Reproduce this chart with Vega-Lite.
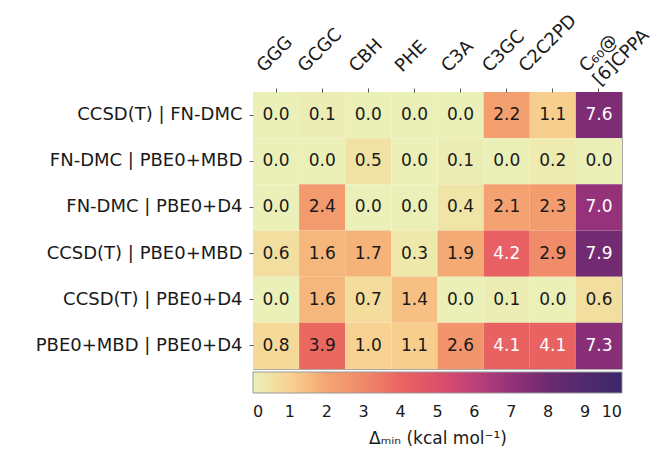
{
  "$schema": "https://vega.github.io/schema/vega-lite/v6.json",
  "width": 369,
  "height": 277,
  "autosize": {"type": "none"},
  "padding": {"left": 253, "top": 92, "right": 32, "bottom": 82},
  "background": "white",
  "config": {
    "font": "DejaVu Sans",
    "view": {"stroke": "#aaaaaa", "strokeWidth": 1}
  },
  "data": {
    "values": [
      {"pair": "CCSD(T) | FN-DMC", "sys": "GGG", "v": 0.0},
      {"pair": "CCSD(T) | FN-DMC", "sys": "GCGC", "v": 0.1},
      {"pair": "CCSD(T) | FN-DMC", "sys": "CBH", "v": 0.0},
      {"pair": "CCSD(T) | FN-DMC", "sys": "PHE", "v": 0.0},
      {"pair": "CCSD(T) | FN-DMC", "sys": "C3A", "v": 0.0},
      {"pair": "CCSD(T) | FN-DMC", "sys": "C3GC", "v": 2.2},
      {"pair": "CCSD(T) | FN-DMC", "sys": "C2C2PD", "v": 1.1},
      {"pair": "CCSD(T) | FN-DMC", "sys": "C₆₀@ [6]CPPA", "v": 7.6},
      {"pair": "FN-DMC | PBE0+MBD", "sys": "GGG", "v": 0.0},
      {"pair": "FN-DMC | PBE0+MBD", "sys": "GCGC", "v": 0.0},
      {"pair": "FN-DMC | PBE0+MBD", "sys": "CBH", "v": 0.5},
      {"pair": "FN-DMC | PBE0+MBD", "sys": "PHE", "v": 0.0},
      {"pair": "FN-DMC | PBE0+MBD", "sys": "C3A", "v": 0.1},
      {"pair": "FN-DMC | PBE0+MBD", "sys": "C3GC", "v": 0.0},
      {"pair": "FN-DMC | PBE0+MBD", "sys": "C2C2PD", "v": 0.2},
      {"pair": "FN-DMC | PBE0+MBD", "sys": "C₆₀@ [6]CPPA", "v": 0.0},
      {"pair": "FN-DMC | PBE0+D4", "sys": "GGG", "v": 0.0},
      {"pair": "FN-DMC | PBE0+D4", "sys": "GCGC", "v": 2.4},
      {"pair": "FN-DMC | PBE0+D4", "sys": "CBH", "v": 0.0},
      {"pair": "FN-DMC | PBE0+D4", "sys": "PHE", "v": 0.0},
      {"pair": "FN-DMC | PBE0+D4", "sys": "C3A", "v": 0.4},
      {"pair": "FN-DMC | PBE0+D4", "sys": "C3GC", "v": 2.1},
      {"pair": "FN-DMC | PBE0+D4", "sys": "C2C2PD", "v": 2.3},
      {"pair": "FN-DMC | PBE0+D4", "sys": "C₆₀@ [6]CPPA", "v": 7.0},
      {"pair": "CCSD(T) | PBE0+MBD", "sys": "GGG", "v": 0.6},
      {"pair": "CCSD(T) | PBE0+MBD", "sys": "GCGC", "v": 1.6},
      {"pair": "CCSD(T) | PBE0+MBD", "sys": "CBH", "v": 1.7},
      {"pair": "CCSD(T) | PBE0+MBD", "sys": "PHE", "v": 0.3},
      {"pair": "CCSD(T) | PBE0+MBD", "sys": "C3A", "v": 1.9},
      {"pair": "CCSD(T) | PBE0+MBD", "sys": "C3GC", "v": 4.2},
      {"pair": "CCSD(T) | PBE0+MBD", "sys": "C2C2PD", "v": 2.9},
      {"pair": "CCSD(T) | PBE0+MBD", "sys": "C₆₀@ [6]CPPA", "v": 7.9},
      {"pair": "CCSD(T) | PBE0+D4", "sys": "GGG", "v": 0.0},
      {"pair": "CCSD(T) | PBE0+D4", "sys": "GCGC", "v": 1.6},
      {"pair": "CCSD(T) | PBE0+D4", "sys": "CBH", "v": 0.7},
      {"pair": "CCSD(T) | PBE0+D4", "sys": "PHE", "v": 1.4},
      {"pair": "CCSD(T) | PBE0+D4", "sys": "C3A", "v": 0.0},
      {"pair": "CCSD(T) | PBE0+D4", "sys": "C3GC", "v": 0.1},
      {"pair": "CCSD(T) | PBE0+D4", "sys": "C2C2PD", "v": 0.0},
      {"pair": "CCSD(T) | PBE0+D4", "sys": "C₆₀@ [6]CPPA", "v": 0.6},
      {"pair": "PBE0+MBD | PBE0+D4", "sys": "GGG", "v": 0.8},
      {"pair": "PBE0+MBD | PBE0+D4", "sys": "GCGC", "v": 3.9},
      {"pair": "PBE0+MBD | PBE0+D4", "sys": "CBH", "v": 1.0},
      {"pair": "PBE0+MBD | PBE0+D4", "sys": "PHE", "v": 1.1},
      {"pair": "PBE0+MBD | PBE0+D4", "sys": "C3A", "v": 2.6},
      {"pair": "PBE0+MBD | PBE0+D4", "sys": "C3GC", "v": 4.1},
      {"pair": "PBE0+MBD | PBE0+D4", "sys": "C2C2PD", "v": 4.1},
      {"pair": "PBE0+MBD | PBE0+D4", "sys": "C₆₀@ [6]CPPA", "v": 7.3}
    ]
  },
  "encoding": {
    "x": {
      "field": "sys", "type": "nominal", "sort": null, "title": null,
      "scale": {"paddingInner": 0, "paddingOuter": 0},
      "axis": {
        "orient": "top", "domain": false, "tickSize": 4, "tickColor": "#555555",
        "labelAngle": -45, "labelAlign": "left", "labelBaseline": "middle",
        "labelFontSize": 18, "labelColor": "#1a1a1a", "labelPadding": 19,
        "labelLineHeight": 19, "labelLimit": 0,
        "labelExpr": "split(datum.label, ' ')",
        "labelOffset": {"expr": "indexof(datum.label, '@') >= 0 ? -16 : -4.9 * length(datum.label) - 1"}
      }
    },
    "y": {
      "field": "pair", "type": "nominal", "sort": null, "title": null,
      "scale": {"paddingInner": 0, "paddingOuter": 0},
      "axis": {
        "domain": false, "tickSize": 4, "tickColor": "#555555",
        "labelFontSize": 18, "labelColor": "#1a1a1a", "labelPadding": 7, "labelLimit": 0
      }
    }
  },
  "layer": [
    {
      "mark": {"type": "rect"},
      "encoding": {
        "color": {
          "field": "v", "type": "quantitative",
          "scale": {
            "domain": [0, 1, 2, 3, 4, 5, 6, 7, 8, 9, 10],
            "range": ["#ebf0b8", "#f8d293", "#f4a572", "#f0896a", "#ea6461", "#dc5069", "#bc4178", "#953279", "#6e2a70", "#50296d", "#3a2869"]
          },
          "legend": {
            "orient": "none", "legendX": 0, "legendY": 280,
            "direction": "horizontal", "gradientLength": 369, "gradientThickness": 21,
            "gradientStrokeColor": "#999999", "gradientStrokeWidth": 1,
            "values": [0, 1, 2, 3, 4, 5, 6, 7, 8, 9, 10],
            "labelFontSize": 16, "labelOffset": 11, "labelColor": "#1a1a1a", "labelOverlap": false,
            "title": "Δₘᵢₙ (kcal mol⁻¹)", "titleOrient": "bottom", "titleAnchor": "middle",
            "titleFontSize": 17, "titleFontWeight": "normal", "titleColor": "#1a1a1a", "titlePadding": 11
          }
        }
      }
    },
    {
      "mark": {"type": "text", "fontSize": 17},
      "encoding": {
        "text": {"field": "v", "type": "quantitative", "format": ".1f"},
        "color": {"condition": {"test": "datum.v >= 4", "value": "#ffffff"}, "value": "#1a1a1a"}
      }
    }
  ]
}
